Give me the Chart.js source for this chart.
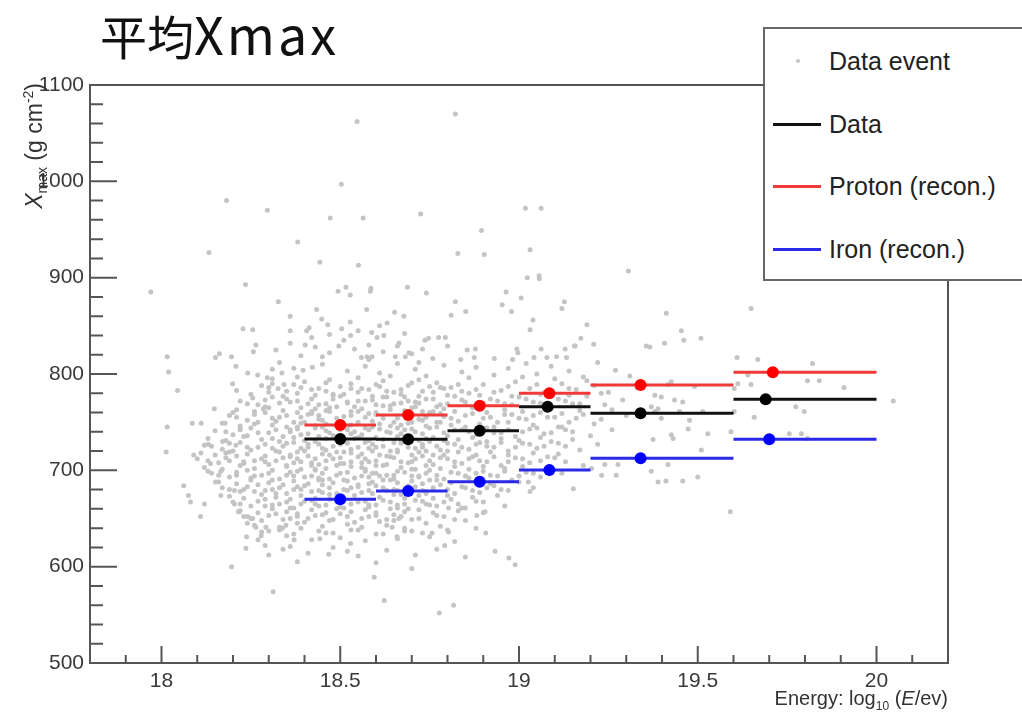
<!DOCTYPE html>
<html>
<head>
<meta charset="utf-8">
<script src="https://cdn.jsdelivr.net/npm/chart.js@4.4.1/dist/chart.umd.min.js"></script>
<style>
  html, body { margin: 0; padding: 0; background: #fff; overflow: hidden; }
  #wrap { position: relative; width: 1022px; height: 717px; }
  #title { position: absolute; left: 100px; top: 7px; font: 47px "Noto Sans CJK JP", "Noto Sans CJK SC", sans-serif; line-height: 1; color: #111; white-space: nowrap; }
  #title span { font-size: 52px; letter-spacing: 3px; }
  .axtitle { position: absolute; font: 20px "Liberation Sans", Arial, sans-serif; color: #333; white-space: nowrap; }
  .axtitle sub, .axtitle sup { font-size: 12px; }
  #ytitle { left: -184px; top: 83px; width: 200px; height: 24px; line-height: 24px; text-align: right; transform-origin: top right; transform: rotate(-90deg); font-size: 23px; }
  #ytitle sub, #ytitle sup { font-size: 14px; }
  #xtitle { right: 74px; top: 686px; line-height: 24px; }
  #legend { position: absolute; left: 763px; top: 27px; width: 300px; height: 250px; border: 2px solid #666; background: #fff; }
  .entry { position: absolute; left: 0; height: 30px; font: 25px "Liberation Sans", Arial, sans-serif; color: #222; }
  .entry span.txt { position: absolute; left: 64px; top: 0; line-height: 30px; white-space: nowrap; }
  .entry span.sw { position: absolute; left: 8px; top: 14px; width: 48px; height: 3px; }
  .entry span.dot { position: absolute; left: 31px; top: 13px; width: 4px; height: 4px; border-radius: 2px; background: #c4c4c4; }
</style>
</head>
<body>
<div id="wrap">
  <canvas id="myChart" width="1022" height="717"></canvas>
  <div id="title">平均<span>Xmax</span></div>
  <div id="ytitle" class="axtitle"><i>X</i><sub>max</sub> (g cm<sup>-2</sup>)</div>
  <div id="xtitle" class="axtitle">Energy: log<sub>10</sub> (<i>E</i>/ev)</div>
  <div id="legend">
    <div class="entry" style="top:17px"><span class="dot"></span><span class="txt">Data event</span></div>
    <div class="entry" style="top:80px"><span class="sw" style="background:#111"></span><span class="txt">Data</span></div>
    <div class="entry" style="top:142px"><span class="sw" style="background:#f03a3a"></span><span class="txt">Proton (recon.)</span></div>
    <div class="entry" style="top:205px"><span class="sw" style="background:#2a2ae8"></span><span class="txt">Iron (recon.)</span></div>
  </div>
</div>
<script>
// axis ranges and tick labels
const xRange = [17.8, 20.2];
const yRange = [500, 1100];
const xTickLabels = [18, 18.5, 19, 19.5, 20];
const yTickLabels = [500, 600, 700, 800, 900, 1000, 1100];

// energy bins of the profiles
const binLow = [18.4, 18.6, 18.8, 19.0, 19.2, 19.6];
const binHigh = [18.6, 18.8, 19.0, 19.2, 19.6, 20.0];

// mean Xmax per bin
const dataMeanE = [18.50, 18.69, 18.89, 19.08, 19.34, 19.69];
const dataXmax = [732.5, 732.2, 741.2, 766.1, 759.2, 773.7];
const protonMeanE = [18.50, 18.69, 18.89, 19.085, 19.34, 19.71];
const protonXmax = [747.1, 757.5, 767.1, 780.0, 788.6, 801.8];
const ironMeanE = [18.50, 18.69, 18.89, 19.085, 19.34, 19.70];
const ironXmax = [669.9, 678.6, 688.2, 700.4, 712.5, 732.2];

// individual events [log10 E, Xmax]
const events = [
  [18.547,1062],[18.503,997],[18.182,980],[18.296,970],[18.472,962],[18.564,962],[18.381,937],[18.133,926],
  [18.443,916],[18.551,913],[17.970,885],[18.235,893],[18.494,886],[18.516,890],[18.528,882],[18.586,889],
  [18.584,886],[18.327,875],[18.360,860],[18.434,867],[18.574,867],[18.448,857],[18.465,851],[18.528,854],
  [18.228,847],[18.255,846],[18.413,848],[18.406,845],[18.504,847],[18.470,841],[18.529,840],[18.588,843],
  [18.603,838],[18.622,840],[18.631,853],[18.264,830],[18.257,823],[18.402,830],[18.496,829],[18.016,818],
  [18.151,817],[18.162,821],[18.196,818],[18.559,817],[18.575,818],[18.589,818],
  [18.822,1070],[18.725,966],[19.018,972],[19.062,972],[18.895,949],[18.829,925],[18.903,924],[19.031,929],
  [19.023,900],[19.056,902],[19.057,899],[19.306,907],[18.688,890],[18.741,884],[18.822,875],[18.851,865],
  [18.810,861],[18.964,885],[19.006,879],[18.953,872],[18.979,865],[19.127,875],[19.120,868],[19.039,856],
  [19.031,846],[19.190,851],[19.173,837],[19.209,831],[19.155,829],[18.652,864],[18.678,860],[18.664,832],
  [18.737,835],[18.747,837],[18.775,838],[18.794,838],[18.800,829],[18.855,825],[18.878,826],[18.875,817],
  [18.994,826],[18.997,822],[19.062,826],[19.078,817],[19.042,817],[19.105,818],[19.133,817],[19.129,826],
  [19.157,829],[19.356,829],[18.759,816],[18.837,815],[18.931,816],[18.982,815],[18.654,818],[18.682,818],
  [18.692,822],
  [19.412,863],[19.649,868],[19.454,845],[19.461,835],[19.407,832],[19.509,837],[19.366,828],[19.610,817],
  [19.668,815],[19.821,811],
  [18.020,802],[18.045,783],[18.148,764],[18.016,745],[18.086,749],[18.111,749],[18.178,749],[18.013,719],
  [18.090,716],[18.131,727],[18.171,730],[18.208,726],[18.180,718],[18.190,719],[18.137,707],[18.130,699],
  [18.166,699],[18.151,688],[18.062,684],[18.075,674],[18.081,667],[18.120,665],[18.109,652],[18.166,674],
  [18.204,679],[18.204,665],[18.215,657],[18.238,631],[18.236,619],[18.279,632],[18.290,622],[18.196,600],
  [18.312,574],[18.595,589],[18.623,565],[18.520,616],[18.468,613],[18.529,624],[18.443,629],[18.360,621],
  [18.371,628],[18.264,641],[18.292,641],[18.338,640],[18.348,643],[18.241,652],[18.255,650],[18.217,657],
  [18.208,808],[18.241,801],[18.269,799],[18.296,796],[18.310,805],[18.337,801],[18.396,804],[18.422,807],
  [18.199,790],[18.210,783],[18.255,775],[18.285,764],[18.326,785],[18.343,789],
  [18.659,631],[18.757,635],[18.803,636],[18.792,622],[18.907,635],[18.933,616],[18.972,609],[18.989,602],
  [18.817,560],[18.777,552],[18.650,648],[18.645,641],[18.664,650],[18.882,653],[18.905,657],[18.840,661],
  [18.803,661],[19.031,678],[19.152,681],[19.026,688],[19.203,702],[19.231,695],[19.272,695],[19.240,706],
  [19.277,706],
  [20.047,772],[19.807,793],[19.840,793],[19.909,786],[19.640,799],[19.612,790],[19.649,789],[19.602,785],
  [19.774,766],[19.798,761],[19.658,755],[19.602,761],[19.756,738],[19.790,738],[19.807,733],[19.591,657],
  [19.593,740],[19.417,789],[19.426,792],[19.491,787],[19.380,778],[19.398,776],[19.435,773],[19.458,771],
  [19.370,766],[19.389,764],[19.380,761],[19.449,761],[19.514,761],[19.398,754],[19.477,752],[19.473,743],
  [19.426,737],[19.431,733],[19.375,732],[19.528,738],[19.510,721],[19.417,706],[19.370,699],[19.389,688],
  [19.411,689],[19.458,689],[19.500,693],
  [18.33,812],[18.37,806],[18.45,810],[18.52,803],[18.57,808],[18.61,801],[18.66,811],[18.71,805],
  [18.74,798],[18.79,809],[18.84,802],[18.88,807],[18.93,799],[18.97,806],[19.02,811],[19.05,800],
  [19.09,808],[19.14,803],[19.18,797],[19.22,812],[19.27,804],[19.31,798],
  [18.28,788],[18.35,782],[18.40,792],[18.44,785],[18.48,779],[18.53,790],[18.58,784],[18.62,793],
  [18.65,781],[18.69,788],[18.73,782],[18.77,791],[18.81,786],[18.86,780],[18.90,789],[18.95,783],
  [18.99,792],[19.03,785],[19.07,781],[19.12,790],[19.16,784],[19.21,788],[19.25,781],[19.33,786],
  [18.22,772],[18.27,768],[18.31,776],[18.36,771],[18.39,765],[18.42,774],[18.46,769],[18.50,777],
  [18.54,766],[18.57,772],[18.60,768],[18.63,776],[18.67,770],[18.70,765],[18.74,774],[18.78,768],
  [18.82,777],[18.85,771],[18.88,766],[18.92,774],[18.96,769],[19.00,776],[19.04,771],[19.08,765],
  [19.11,774],[19.15,769],[19.19,777],[19.24,768],[19.29,773],
  [18.19,757],[18.24,752],[18.29,760],[18.33,755],[18.37,750],[18.41,758],[18.44,753],[18.47,761],
  [18.51,756],[18.55,750],[18.58,759],[18.62,754],[18.65,750],[18.68,758],[18.72,753],[18.76,761],
  [18.79,756],[18.83,751],[18.87,759],[18.90,754],[18.94,750],[18.98,758],[19.02,753],[19.06,760],
  [19.10,755],[19.14,750],[19.18,758],[19.23,753],[19.30,757],
  [18.15,741],[18.20,737],[18.25,744],[18.30,739],[18.34,735],[18.38,743],[18.41,738],[18.45,745],
  [18.48,736],[18.52,742],[18.56,737],[18.59,745],[18.63,740],[18.66,735],[18.70,743],[18.73,738],
  [18.77,745],[18.80,736],[18.84,742],[18.88,737],[18.91,744],[18.95,739],[18.99,735],[19.03,743],
  [19.07,738],[19.11,745],[19.15,740],[19.20,736],[19.26,742],
  [18.12,726],[18.17,722],[18.22,729],[18.27,724],[18.32,720],[18.35,728],[18.39,723],[18.43,730],
  [18.46,721],[18.50,727],[18.53,722],[18.57,729],[18.60,724],[18.64,720],[18.67,728],[18.71,723],
  [18.75,730],[18.78,721],[18.82,727],[18.86,722],[18.89,729],[18.93,724],[18.97,720],[19.01,728],
  [19.05,723],[19.09,730],[19.13,725],[19.17,721],[19.22,727],
  [18.10,712],[18.16,708],[18.21,715],[18.26,710],[18.30,706],[18.34,713],[18.37,708],[18.41,715],
  [18.44,706],[18.48,712],[18.51,707],[18.55,714],[18.58,709],[18.62,705],[18.65,713],[18.69,708],
  [18.73,715],[18.76,706],[18.80,712],[18.84,707],[18.87,714],[18.91,709],[18.95,705],[18.99,713],
  [19.03,708],[19.08,714],[19.13,709],[19.18,705],
  [18.14,697],[18.19,693],[18.24,700],[18.28,695],[18.33,691],[18.36,698],[18.40,693],[18.43,700],
  [18.47,691],[18.50,697],[18.54,692],[18.57,699],[18.61,694],[18.64,690],[18.68,698],[18.72,693],
  [18.75,700],[18.79,691],[18.83,697],[18.86,692],[18.90,699],[18.94,694],[18.98,690],[19.02,698],
  [19.06,693],[19.12,697],
  [18.17,682],[18.22,678],[18.27,685],[18.31,680],[18.35,676],[18.38,683],[18.42,678],[18.45,685],
  [18.49,676],[18.53,682],[18.56,677],[18.60,684],[18.63,679],[18.67,675],[18.71,683],[18.74,678],
  [18.78,685],[18.82,676],[18.85,682],[18.89,677],[18.93,684],[18.97,679],[19.04,682],
  [18.20,667],[18.25,663],[18.29,670],[18.33,665],[18.37,661],[18.40,668],[18.44,663],[18.47,670],
  [18.51,661],[18.55,667],[18.58,662],[18.62,669],[18.66,664],[18.69,660],[18.73,668],[18.77,663],
  [18.81,670],[18.85,661],[18.90,667],[18.96,663],
  [18.23,652],[18.28,648],[18.32,655],[18.36,650],[18.40,646],[18.43,653],[18.47,648],[18.50,655],
  [18.54,646],[18.58,652],[18.61,647],[18.65,654],[18.70,649],[18.74,645],[18.79,652],[18.85,648],
  [18.30,637],[18.35,632],[18.39,640],[18.42,628],[18.46,635],[18.50,630],[18.53,638],[18.57,627],
  [18.60,634],[18.66,629],[18.70,637],[18.75,631],[18.82,626],
  [18.42,761],[18.46,748],[18.49,733],[18.53,718],[18.56,703],[18.59,688],[18.43,701],[18.47,716],
  [18.51,746],[18.55,761],[18.58,731],[18.61,716],[18.64,746],[18.67,731],[18.70,701],[18.73,761],
  [18.76,716],[18.79,731],[18.62,776],[18.52,771],[18.41,727],[18.38,712],[18.36,742],[18.45,690],
  [18.55,685],[18.65,695],[18.75,690],[18.68,776],[18.78,750],[18.48,778],[18.58,742],[18.44,757],
  [18.54,733],[18.64,763],[18.72,719],[18.60,697],[18.50,707],[18.40,750],[18.70,750],[18.80,720],
  [18.31,795],[18.38,797],[18.47,794],[18.55,796],[18.64,798],[18.72,794],[18.86,796],[19.01,797],
  [19.10,795],[19.19,793],
  [18.25,779],[18.30,781],[18.34,777],[18.38,780],[18.43,778],[18.46,782],[18.51,779],[18.55,781],
  [18.59,777],[18.63,782],[18.67,779],[18.72,777],[18.76,781],[18.80,778],[18.84,782],[18.89,778],
  [18.93,781],[18.98,777],[19.06,779],[19.14,778],[19.23,780],
  [18.21,763],[18.26,761],[18.30,765],[18.34,762],[18.38,760],[18.43,764],[18.46,762],[18.49,766],
  [18.53,761],[18.56,764],[18.60,760],[18.64,767],[18.68,762],[18.71,766],[18.75,760],[18.79,764],
  [18.82,761],[18.87,765],[18.91,760],[18.96,763],[19.01,761],[19.09,764],[19.17,762],[19.26,763],
  [18.17,749],[18.22,746],[18.27,750],[18.31,747],[18.35,745],[18.39,749],[18.43,746],[18.46,741],
  [18.50,750],[18.53,747],[18.57,744],[18.61,748],[18.66,744],[18.69,749],[18.74,746],[18.77,750],
  [18.81,747],[18.85,745],[18.89,748],[18.93,745],[18.97,750],[19.04,747],[19.12,745],[19.21,748],
  [18.13,733],[18.18,731],[18.23,735],[18.28,732],[18.33,730],[18.37,734],[18.40,731],[18.44,735],
  [18.51,731],[18.55,734],[18.62,732],[18.69,735],[18.72,731],[18.76,734],[18.83,732],[18.87,734],
  [18.91,730],[18.95,733],[19.00,731],[19.06,734],[19.15,732],
  [18.11,718],[18.15,716],[18.20,720],[18.24,717],[18.29,715],[18.33,719],[18.36,716],[18.40,720],
  [18.45,717],[18.49,719],[18.56,717],[18.59,720],[18.63,715],[18.66,719],[18.70,716],[18.74,720],
  [18.79,716],[18.83,719],[18.88,716],[18.92,719],[18.97,716],[19.04,718],[19.11,717],
  [18.12,703],[18.17,701],[18.22,705],[18.26,702],[18.31,700],[18.35,704],[18.39,701],[18.42,705],
  [18.46,702],[18.53,704],[18.57,701],[18.60,705],[18.67,703],[18.71,701],[18.74,705],[18.78,702],
  [18.82,704],[18.86,701],[18.90,704],[18.96,702],[19.01,704],
  [18.16,688],[18.21,686],[18.25,690],[18.30,687],[18.34,685],[18.37,689],[18.41,686],[18.44,690],
  [18.48,687],[18.52,689],[18.58,686],[18.62,690],[18.66,687],[18.70,689],[18.73,686],[18.77,690],
  [18.81,687],[18.88,689],[18.92,686],[19.00,688],
  [18.19,673],[18.23,671],[18.28,675],[18.32,672],[18.36,670],[18.39,674],[18.43,671],[18.47,675],
  [18.50,672],[18.54,674],[18.61,672],[18.65,675],[18.68,671],[18.72,674],[18.76,671],[18.80,674],
  [18.87,672],[18.94,674],
  [18.22,658],[18.27,656],[18.31,660],[18.35,657],[18.38,655],[18.42,659],[18.46,656],[18.49,660],
  [18.53,657],[18.57,659],[18.60,656],[18.64,660],[18.68,657],[18.72,659],[18.76,656],[18.83,658],
  [18.90,656],
  [18.26,643],[18.33,641],[18.38,645],[18.45,642],[18.52,644],[18.56,641],[18.63,643],[18.68,640],
  [18.78,642],[18.88,640],
  [18.34,618],[18.41,614],[18.48,620],[18.55,611],[18.63,617],[18.71,612],[18.77,618],[18.85,610],
  [18.38,605],[18.60,604],[18.70,598],
  [18.32,825],[18.36,832],[18.39,819],[18.43,828],[18.47,822],[18.51,835],[18.54,826],[18.58,830],
  [18.62,823],[18.66,829],[18.70,821],[18.73,826],[18.42,838],[18.55,845],[18.61,850],[18.68,842],
  [18.36,845],[18.72,812],[18.45,818],[18.58,815],
  [18.30,786],[18.37,789],[18.42,784],[18.50,787],[18.56,785],[18.60,789],[18.67,784],[18.75,787],
  [18.79,785],[18.83,789],[18.88,784],[18.97,787],[19.05,789],[19.14,785],
  [18.24,769],[18.29,773],[18.33,770],[18.38,772],[18.44,768],[18.48,774],[18.52,770],[18.59,773],
  [18.65,769],[18.69,772],[18.72,770],[18.76,774],[18.80,769],[18.84,773],[18.90,770],[18.94,772],
  [18.98,768],[19.02,774],[19.06,770],[19.13,772],[19.17,769],
  [18.21,755],[18.26,758],[18.31,754],[18.35,757],[18.39,755],[18.42,759],[18.49,754],[18.53,757],
  [18.57,755],[18.60,758],[18.66,754],[18.70,757],[18.74,755],[18.78,759],[18.81,754],[18.85,757],
  [18.92,755],[18.96,758],[19.00,754],[19.04,757],[19.08,755],[19.12,759],[19.16,754],
  [18.18,740],[18.22,743],[18.27,739],[18.32,742],[18.36,740],[18.43,744],[18.47,739],[18.50,742],
  [18.54,740],[18.61,743],[18.64,739],[18.68,742],[18.71,740],[18.75,744],[18.79,739],[18.82,742],
  [18.86,740],[18.90,743],[18.93,739],[18.97,742],[19.01,740],[19.05,744],[19.09,739],[19.13,742],
  [18.14,725],[18.19,728],[18.24,724],[18.29,727],[18.34,725],[18.37,729],[18.41,724],[18.44,727],
  [18.48,725],[18.52,728],[18.55,724],[18.59,727],[18.62,725],[18.65,729],[18.69,724],[18.73,727],
  [18.77,725],[18.80,728],[18.84,724],[18.88,727],[18.91,725],[18.95,729],[18.99,724],[19.03,727],
  [19.07,725],[19.11,728],
  [18.13,710],[18.18,713],[18.23,709],[18.28,712],[18.32,710],[18.36,714],[18.39,709],[18.43,712],
  [18.46,710],[18.50,713],[18.53,709],[18.57,712],[18.60,710],[18.64,714],[18.67,709],[18.71,712],
  [18.75,710],[18.78,713],[18.82,709],[18.86,712],[18.89,710],[18.93,714],[18.97,709],[19.01,712],
  [19.06,710],[19.10,713],
  [18.16,695],[18.21,698],[18.26,694],[18.30,697],[18.35,695],[18.38,699],[18.42,694],[18.45,697],
  [18.49,695],[18.52,698],[18.56,694],[18.59,697],[18.63,695],[18.66,699],[18.70,694],[18.74,697],
  [18.77,695],[18.81,698],[18.85,694],[18.88,697],[18.92,695],[18.96,699],[19.00,694],[19.04,697],
  [18.19,680],[18.24,683],[18.29,679],[18.33,682],[18.37,680],[18.40,684],[18.44,679],[18.47,682],
  [18.51,680],[18.55,683],[18.58,679],[18.62,682],[18.65,680],[18.69,684],[18.73,679],[18.76,682],
  [18.80,680],[18.84,683],[18.87,679],[18.91,682],[18.95,680],
  [18.22,665],[18.27,668],[18.31,664],[18.35,667],[18.39,665],[18.42,669],[18.46,664],[18.49,667],
  [18.53,665],[18.57,668],[18.60,664],[18.64,667],[18.68,665],[18.71,669],[18.75,664],[18.79,667],
  [18.83,665],[18.88,668],
  [18.25,650],[18.30,653],[18.34,649],[18.38,652],[18.41,650],[18.45,654],[18.48,649],[18.52,652],
  [18.56,650],[18.60,653],[18.63,649],[18.67,652],[18.72,650],[18.77,653],[18.82,649],
  [18.28,636],[18.33,638],[18.37,634],[18.44,637],[18.48,635],[18.55,638],[18.62,634],[18.68,637],
  [18.73,635],[18.80,638],
  [18.31,790],[18.39,786],[18.46,791],[18.53,785],[18.61,787],[18.70,791],[18.78,786],
  [18.29,766],[18.35,774],[18.41,769],[18.47,765],[18.55,772],[18.62,767],[18.71,771],[18.77,766],
  [18.26,748],[18.32,751],[18.38,745],[18.45,752],[18.52,746],[18.59,751],[18.67,747],[18.73,752],
  [18.24,736],[18.31,733],[18.39,737],[18.46,733],[18.53,738],[18.60,734],[18.67,738],[18.74,733],
  [18.25,721],[18.31,723],[18.38,719],[18.45,723],[18.51,719],[18.58,723],[18.66,721],[18.73,724],
  [18.23,707],[18.29,709],[18.35,705],[18.42,708],[18.49,705],[18.56,708],[18.63,706],[18.70,709],
  [18.25,692],[18.31,690],[18.37,694],[18.44,692],[18.51,690],[18.58,693],[18.65,691],[18.72,694],
  [18.26,678],[18.32,676],[18.39,680],[18.45,677],[18.52,679],[18.59,676],[18.66,679],[18.74,676],
  [18.29,663],[18.36,661],[18.43,665],[18.50,662],[18.58,664],[18.66,661],[18.74,665],
  [18.21,695],[18.23,680],[18.19,710],[18.22,742],[18.20,760],[18.24,645],[18.27,628],[18.30,612]
];

// horizontal bin bars, broken between bins by a null point
function binBars(values) {
    let pts = [];
    for (let i = 0; i < values.length; i++) {
        pts.push({x: binLow[i], y: values[i]});
        pts.push({x: binHigh[i], y: values[i]});
        pts.push({x: binHigh[i], y: null});
    }
    return pts;
}

function markers(xs, ys) {
    return xs.map((x, i) => ({x: x, y: ys[i]}));
}

// ROOT style frame with inward ticks
const rootFrame = {
    id: 'rootFrame',
    afterDraw(chart) {
        const ctx = chart.ctx;
        const a = chart.chartArea;
        const xs = chart.scales.x, ys = chart.scales.y;
        ctx.save();
        ctx.strokeStyle = '#555';
        ctx.lineWidth = 2;
        ctx.strokeRect(a.left, a.top, a.right - a.left, a.bottom - a.top);
        ctx.beginPath();
        for (let i = 179; i <= 201; i++) {
            const px = xs.getPixelForValue(i / 10);
            const len = (i % 5 === 0) ? 17 : 8;
            ctx.moveTo(px, a.bottom);
            ctx.lineTo(px, a.bottom - len);
        }
        for (let v = yRange[0] + 20; v < yRange[1]; v += 20) {
            const py = ys.getPixelForValue(v);
            const len = (v % 100 === 0) ? 27 : 13;
            ctx.moveTo(a.left, py);
            ctx.lineTo(a.left + len, py);
        }
        ctx.stroke();
        ctx.restore();
    }
};

const ctx = document.getElementById('myChart').getContext('2d');
const tickFont = {family: '"Liberation Sans", Arial, sans-serif', size: 21};

new Chart(ctx, {
    type: 'scatter',
    data: {
        datasets: [{
            label: 'Data event',
            data: events.map(e => ({x: e[0], y: e[1]})),
            pointRadius: 2.5,
            pointBackgroundColor: '#c4c4c4',
            pointBorderWidth: 0,
            order: 10
        }, {
            label: 'Data',
            data: binBars(dataXmax),
            showLine: true, spanGaps: false,
            borderColor: '#111', borderWidth: 3, pointRadius: 0,
            order: 3
        }, {
            label: 'Proton (recon.)',
            data: binBars(protonXmax),
            showLine: true, spanGaps: false,
            borderColor: '#f03a3a', borderWidth: 3, pointRadius: 0,
            order: 4
        }, {
            label: 'Iron (recon.)',
            data: binBars(ironXmax),
            showLine: true, spanGaps: false,
            borderColor: '#2a2ae8', borderWidth: 3, pointRadius: 0,
            order: 4
        }, {
            data: markers(dataMeanE, dataXmax),
            pointRadius: 6, pointBackgroundColor: '#000', pointBorderWidth: 0,
            order: 1
        }, {
            data: markers(protonMeanE, protonXmax),
            pointRadius: 6, pointBackgroundColor: '#ff0000', pointBorderWidth: 0,
            order: 2
        }, {
            data: markers(ironMeanE, ironXmax),
            pointRadius: 6, pointBackgroundColor: '#0000ff', pointBorderWidth: 0,
            order: 2
        }]
    },
    options: {
        responsive: false,
        animation: false,
        layout: {padding: {left: 0, right: 74, top: 85, bottom: 0}},
        plugins: {legend: {display: false}, tooltip: {enabled: false}},
        scales: {
            x: {
                type: 'linear',
                min: xRange[0], max: xRange[1],
                afterBuildTicks: (axis) => { axis.ticks = xTickLabels.map(v => ({value: v})); },
                afterFit: (scale) => { scale.height = 54; },
                grid: {display: false, drawTicks: false},
                border: {display: false},
                ticks: {font: tickFont, color: '#3a3a3a', padding: 6, maxRotation: 0,
                        callback: (v) => String(v)}
            },
            y: {
                type: 'linear',
                min: yRange[0], max: yRange[1],
                afterBuildTicks: (axis) => { axis.ticks = yTickLabels.map(v => ({value: v})); },
                afterFit: (scale) => { scale.width = 90; },
                grid: {display: false, drawTicks: false},
                border: {display: false},
                ticks: {font: tickFont, color: '#3a3a3a', padding: 6,
                        callback: (v) => String(v)}
            }
        }
    },
    plugins: [rootFrame]
});
</script>
</body>
</html>
